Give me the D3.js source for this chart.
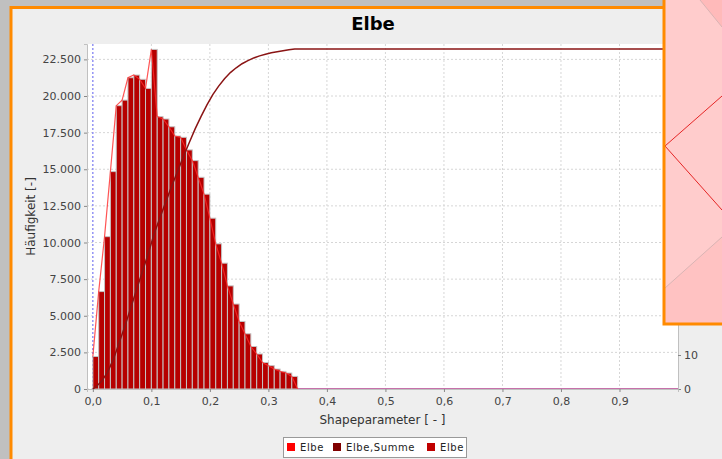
<!DOCTYPE html>
<html>
<head>
<meta charset="UTF-8">
<title>Elbe</title>
<script src="https://d3js.org/d3.v7.min.js"></script>
<style>
  body { margin: 0; background: #c0c0c0; }
  svg { display: block; font-family: "DejaVu Sans", sans-serif; }
</style>
</head>
<body>
<svg id="chart" width="722" height="459"></svg>
<script>
// histogram counts, bins of width 0.01 starting at 0.00
const counts = [2220, 6650, 10400, 14840, 19340, 19720, 21250, 21430, 21140, 20520,
                23180, 18590, 18430, 17900, 17270, 17180, 16320, 15590, 14450, 13300,
                11660, 9910, 8590, 7040, 5800, 4610, 3770, 2900, 2390, 1810,
                1590, 1360, 1200, 1090, 860];
// cumulative share in percent (Elbe,Summe), read at bin centres
const cumPct = [0.6, 2.3, 4.9, 8.7, 13.6, 18.6, 24.0, 29.4, 34.7, 40.0,
                45.8, 50.5, 55.2, 59.8, 64.1, 68.5, 72.6, 76.6, 80.2, 83.6,
                86.6, 89.1, 91.3, 93.1, 94.5, 95.7, 96.6, 97.4, 98.0, 98.5,
                98.9, 99.2, 99.5, 99.8, 100];
const xTicks = [0, 0.1, 0.2, 0.3, 0.4, 0.5, 0.6, 0.7, 0.8, 0.9];
const yTicks = [0, 2500, 5000, 7500, 10000, 12500, 15000, 17500, 20000, 22500];
const rTicks = [0, 10, 20, 30, 40, 50, 60, 70, 80, 90, 100];
const legendItems = [
  { label: "Elbe", color: "#ff0000" },
  { label: "Elbe,Summe", color: "#800000" },
  { label: "Elbe", color: "#c00000" }
];

const binW = 0.01;
const svg = d3.select("#chart");

// background + panel frame
svg.append("rect").attr("width", 722).attr("height", 459).attr("fill", "#c0c0c0");
svg.append("rect").attr("x", 11).attr("y", 7.5).attr("width", 740).attr("height", 470)
  .attr("fill", "#eeeeee").attr("stroke", "#ff8a00").attr("stroke-width", 3);

svg.append("text").attr("x", 373).attr("y", 30).attr("text-anchor", "middle")
  .style("font-size", "18px").style("font-weight", "bold").text("Elbe");

const plot = { left: 87, right: 678, top: 44, bottom: 389 };
const x = d3.scaleLinear().domain([-0.01, 1.0]).range([plot.left, plot.right]);
const y = d3.scaleLinear().domain([0, 23550]).range([plot.bottom, plot.top]);
const yR = d3.scaleLinear().domain([0, 101.5]).range([plot.bottom, plot.top]);

svg.append("rect").attr("x", plot.left).attr("y", plot.top)
  .attr("width", plot.right - plot.left).attr("height", plot.bottom - plot.top)
  .attr("fill", "white");

// grid
const grid = svg.append("g").attr("stroke", "#d6d6d6").attr("stroke-dasharray", "2,2");
grid.selectAll(".gx").data(xTicks).join("line")
  .attr("x1", d => x(d)).attr("x2", d => x(d)).attr("y1", plot.top).attr("y2", plot.bottom);
grid.selectAll(".gy").data(yTicks).join("line")
  .attr("x1", plot.left).attr("x2", plot.right).attr("y1", d => y(d)).attr("y2", d => y(d));

// blue marker at 0
svg.append("line").attr("x1", x(0)).attr("x2", x(0)).attr("y1", plot.top).attr("y2", plot.bottom)
  .attr("stroke", "#7070ff").attr("stroke-dasharray", "2,2");
svg.append("line").attr("x1", x(0)).attr("x2", plot.right).attr("y1", plot.bottom - 0.5).attr("y2", plot.bottom - 0.5)
  .attr("stroke", "#a0a0ff").attr("stroke-width", 1);

// bars
svg.append("g").selectAll("rect").data(counts).join("rect")
  .attr("x", (d, i) => x(i * binW))
  .attr("y", d => y(d))
  .attr("width", x(binW) - x(0))
  .attr("height", d => y(0) - y(d))
  .attr("fill", "#b60000")
  .attr("stroke", "#c4c4c4")
  .attr("stroke-width", 1);

// red line (Elbe)
const linePts = counts.map((d, i) => [i * binW, d]).concat([[counts.length * binW, 0], [1.0, 0]]);
svg.append("path").datum(linePts)
  .attr("d", d3.line().x(d => x(d[0])).y(d => y(d[1])))
  .attr("fill", "none").attr("stroke", "#ff2a2a").attr("stroke-width", 1.2).attr("opacity", 0.8);

// cumulative line (Elbe,Summe)
const cumPts = [[0, 0]].concat(cumPct.map((d, i) => [i * binW + binW / 2, d]), [[1.0, 100]]);
svg.append("path").datum(cumPts)
  .attr("d", d3.line().x(d => x(d[0])).y(d => yR(d[1])))
  .attr("fill", "none").attr("stroke", "#8a1414").attr("stroke-width", 1.5);

// axes
const leftAxis = svg.append("g").attr("transform", `translate(${plot.left},0)`)
  .call(d3.axisLeft(y).tickValues(yTicks).tickSize(3).tickPadding(3)
    .tickFormat(d => d3.format(",")(d).replace(/,/g, ".")));
const rightAxis = svg.append("g").attr("transform", `translate(${plot.right},0)`)
  .call(d3.axisRight(yR).tickValues(rTicks).tickSize(3).tickPadding(3));
const bottomAxis = svg.append("g").attr("transform", `translate(0,${plot.bottom})`)
  .call(d3.axisBottom(x).tickValues(xTicks).tickSize(3).tickPadding(5)
    .tickFormat(d => d3.format(".1f")(d).replace(".", ",")));
[leftAxis, rightAxis, bottomAxis].forEach(g => {
  g.select(".domain").attr("stroke", "#c0c0c0");
  g.selectAll(".tick line").attr("stroke", "#888");
  g.selectAll(".tick text").attr("fill", "#444").style("font-size", "11px")
    .style("font-family", "DejaVu Sans, sans-serif");
});

svg.append("text").attr("x", (plot.left + plot.right) / 2).attr("y", 424)
  .attr("text-anchor", "middle").attr("fill", "#333").style("font-size", "12px")
  .text("Shapeparameter [ - ]");
svg.append("text").attr("transform", `translate(35,${(plot.top + plot.bottom) / 2}) rotate(-90)`)
  .attr("text-anchor", "middle").attr("fill", "#333").style("font-size", "12px")
  .text("Häufigkeit [-]");

// legend
const lg = svg.append("g");
lg.append("rect").attr("x", 283.5).attr("y", 437.5).attr("width", 183).attr("height", 20)
  .attr("fill", "white").attr("stroke", "#999");
const lx = [287, 333, 427];
legendItems.forEach((it, i) => {
  lg.append("rect").attr("x", lx[i]).attr("y", 443).attr("width", 8).attr("height", 8).attr("fill", it.color);
  lg.append("text").attr("x", lx[i] + 13).attr("y", 451).attr("fill", "#222")
    .style("font-size", "10px").style("letter-spacing", "0.6px").text(it.label);
});

// pink overlay on the right
const ov = svg.append("g");
ov.append("rect").attr("x", 664).attr("y", -3).attr("width", 62).attr("height", 327)
  .attr("fill", "#ffcccc");
ov.append("polygon").attr("points", "700,0 722,0 722,27").attr("fill", "#ffbaba");
ov.append("polygon").attr("points", "665,288 722,237 722,325 665,325").attr("fill", "#ffc2c2");
ov.append("line").attr("x1", 700).attr("y1", 0).attr("x2", 722).attr("y2", 27).attr("stroke", "#d9b4b4");
ov.append("line").attr("x1", 665).attr("y1", 288).attr("x2", 722).attr("y2", 237).attr("stroke", "#d9b4b4");
ov.append("polyline").attr("points", "722,96 665,146 722,210").attr("fill", "none")
  .attr("stroke", "#e52626").attr("stroke-width", 1);
ov.append("rect").attr("x", 664).attr("y", -3).attr("width", 62).attr("height", 327)
  .attr("fill", "none").attr("stroke", "#ff8a00").attr("stroke-width", 3);
</script>
</body>
</html>
